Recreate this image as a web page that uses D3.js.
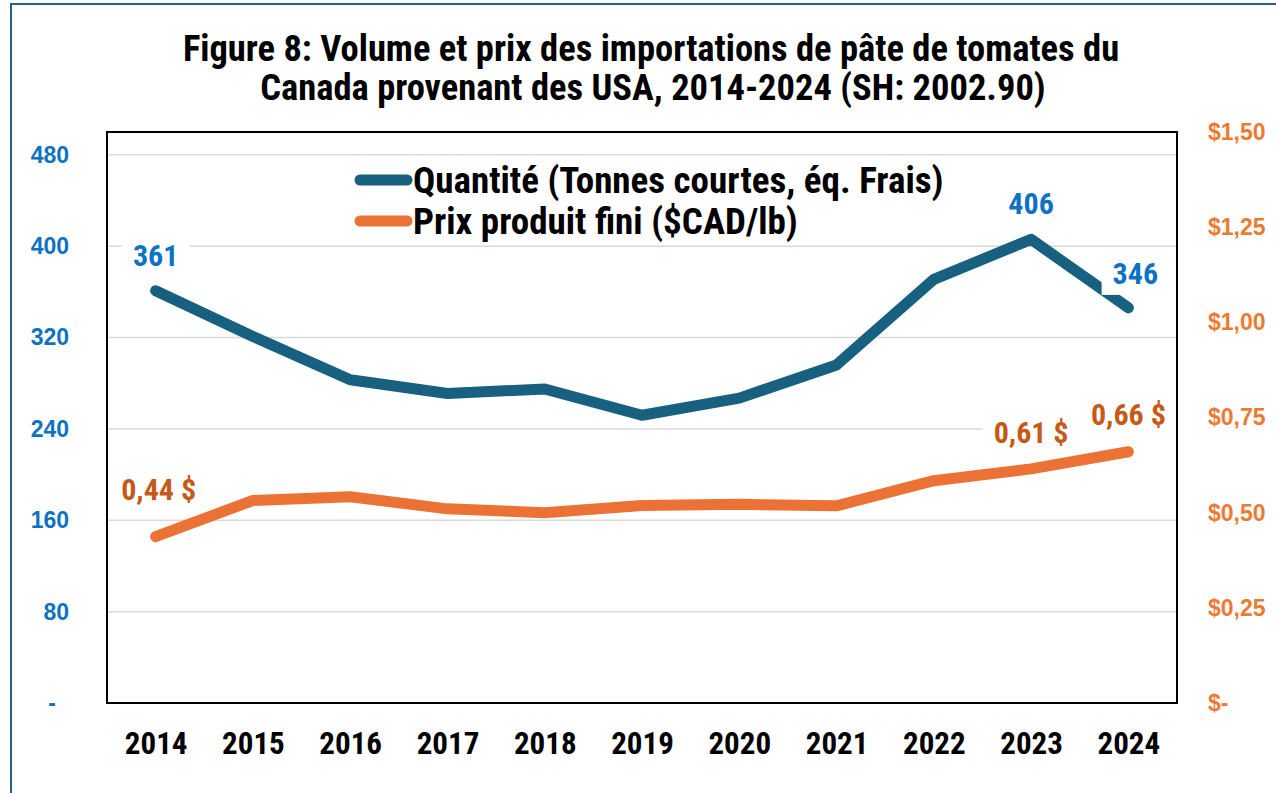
<!DOCTYPE html>
<html>
<head>
<meta charset="utf-8">
<script src="https://cdn.jsdelivr.net/npm/d3@7"></script>
<style>
  body { margin: 0; background: #fff; }
  svg { display: block; font-family: "Roboto Condensed", "Arial Narrow", sans-serif; font-weight: bold; }
</style>
</head>
<body>
<svg id="chart"></svg>
<script>
// data
var years = ["2014", "2015", "2016", "2017", "2018", "2019", "2020", "2021", "2022", "2023", "2024"];
var quantite = [361, 321, 283, 271, 275, 252, 267, 296, 371, 406, 346];
var prix = [0.437, 0.532, 0.542, 0.510, 0.500, 0.519, 0.522, 0.518, 0.584, 0.615, 0.66];
var leftTicks = [0, 80, 160, 240, 320, 400, 480];
var rightTicks = [0, 0.25, 0.5, 0.75, 1.0, 1.25, 1.5];
var qLabels = [{i: 0, text: "361"}, {i: 9, text: "406"}, {i: 10, text: "346"}];
var pLabels = [{i: 0, text: "0,44 $"}, {i: 9, text: "0,61 $"}, {i: 10, text: "0,66 $"}];

var svgWidth = 1276, svgHeight = 793;
var plot = {left: 107, right: 1177, top: 132, bottom: 703};
var blue = "#17607f", orange = "#eb7234";
var narrow = '"Roboto Condensed", "Arial Narrow", sans-serif';
var wide = '"Liberation Sans", Arial, sans-serif';

var svg = d3.select("#chart").attr("width", svgWidth).attr("height", svgHeight);

// outer frame (left + top edges only visible)
svg.append("path")
    .attr("d", "M11,793 L11,4 L1276,4")
    .attr("fill", "none")
    .attr("stroke", "#1f6286")
    .attr("stroke-width", 2);

// title
var title = svg.append("text")
    .attr("text-anchor", "middle")
    .style("font-size", "36.5px")
    .attr("fill", "#000");
title.append("tspan").attr("x", 651).attr("y", 61).text("Figure 8: Volume et prix des importations de pâte de tomates du");
title.append("tspan").attr("x", 653).attr("y", 100).text("Canada provenant des USA, 2014-2024 (SH: 2002.90)");

// scales
var x = d3.scalePoint().domain(years).range([plot.left, plot.right]).padding(0.5);
var yL = d3.scaleLinear().domain([0, 500]).range([plot.bottom, plot.top]);
var yR = d3.scaleLinear().domain([0, 1.5]).range([plot.bottom, plot.top]);

// gridlines
svg.append("g").selectAll("line")
    .data(leftTicks.filter(function (d) { return d > 0; }))
    .enter().append("line")
    .attr("x1", plot.left).attr("x2", plot.right)
    .attr("y1", function (d) { return yL(d); })
    .attr("y2", function (d) { return yL(d); })
    .attr("stroke", "#d9d9d9")
    .attr("stroke-width", 1.5);

// left axis
var axL = svg.append("g")
    .attr("transform", "translate(" + plot.left + ",0)")
    .call(d3.axisLeft(yL).tickValues(leftTicks).tickSize(0).tickPadding(38)
        .tickFormat(function (d) { return d === 0 ? "-" : d; }));
axL.select(".domain").remove();
axL.selectAll("text").attr("fill", "#0d72c4").style("font-size", "23px").style("font-family", wide)
    .attr("dx", function (d) { return d === 0 ? -13 : 0; });

// right axis
var axR = svg.append("g")
    .attr("transform", "translate(" + plot.right + ",0)")
    .call(d3.axisRight(yR).tickValues(rightTicks).tickSize(0).tickPadding(31)
        .tickFormat(function (d) { return d === 0 ? "$-" : "$" + d.toFixed(2).replace(".", ","); }));
axR.select(".domain").remove();
axR.selectAll("text").attr("fill", "#ee7a32").style("font-size", "23px").style("font-family", wide);

// x axis
var axX = svg.append("g")
    .attr("transform", "translate(0," + plot.bottom + ")")
    .call(d3.axisBottom(x).tickSize(0).tickPadding(29));
axX.select(".domain").remove();
axX.selectAll("text").attr("fill", "#000").style("font-size", "31px").style("font-family", narrow);

// lines
var lineQ = d3.line()
    .x(function (d, i) { return x(years[i]); })
    .y(function (d) { return yL(d); });
var lineP = d3.line()
    .x(function (d, i) { return x(years[i]); })
    .y(function (d) { return yR(d); });

svg.append("path").datum(quantite).attr("d", lineQ)
    .attr("fill", "none").attr("stroke", blue).attr("stroke-width", 11)
    .attr("stroke-linecap", "round").attr("stroke-linejoin", "round");
svg.append("path").datum(prix).attr("d", lineP)
    .attr("fill", "none").attr("stroke", orange).attr("stroke-width", 11)
    .attr("stroke-linecap", "round").attr("stroke-linejoin", "round");

// data labels with white background
function addLabels(list, values, scale, color, dx, dy) {
    list.forEach(function (l, k) {
        var g = svg.append("g");
        var t = g.append("text")
            .attr("x", x(years[l.i]) + dx[k])
            .attr("y", scale(values[l.i]) + dy[k])
            .attr("text-anchor", "middle")
            .attr("fill", color)
            .style("font-size", "30px")
            .text(l.text);
        var bb = t.node().getBBox();
        g.insert("rect", "text")
            .attr("x", bb.x - 11).attr("y", bb.y + 2)
            .attr("width", bb.width + 22).attr("height", bb.height + 2)
            .attr("fill", "#fff");
    });
}
addLabels(qLabels, quantite, yL, "#0d72c4", [0, 0, 7], [-25, -25, -24]);
addLabels(pLabels, prix, yR, "#c55a16", [3, 0, 0], [-37, -26, -27]);

// plot border (on top of label boxes)
svg.append("rect")
    .attr("x", plot.left).attr("y", plot.top)
    .attr("width", plot.right - plot.left).attr("height", plot.bottom - plot.top)
    .attr("fill", "none").attr("stroke", "#000").attr("stroke-width", 2);

// legend
var legend = [
    {name: "Quantité (Tonnes courtes, éq. Frais)", color: blue, y: 180},
    {name: "Prix produit fini ($CAD/lb)", color: orange, y: 221}
];
var lg = svg.append("g").selectAll("g").data(legend).enter().append("g");
lg.append("line")
    .attr("x1", 360).attr("x2", 407)
    .attr("y1", function (d) { return d.y; }).attr("y2", function (d) { return d.y; })
    .attr("stroke", function (d) { return d.color; })
    .attr("stroke-width", 11).attr("stroke-linecap", "round");
lg.append("text")
    .attr("x", 413)
    .attr("y", function (d) { return d.y + 13; })
    .style("font-size", "37px")
    .attr("fill", "#000")
    .text(function (d) { return d.name; });
</script>
</body>
</html>
